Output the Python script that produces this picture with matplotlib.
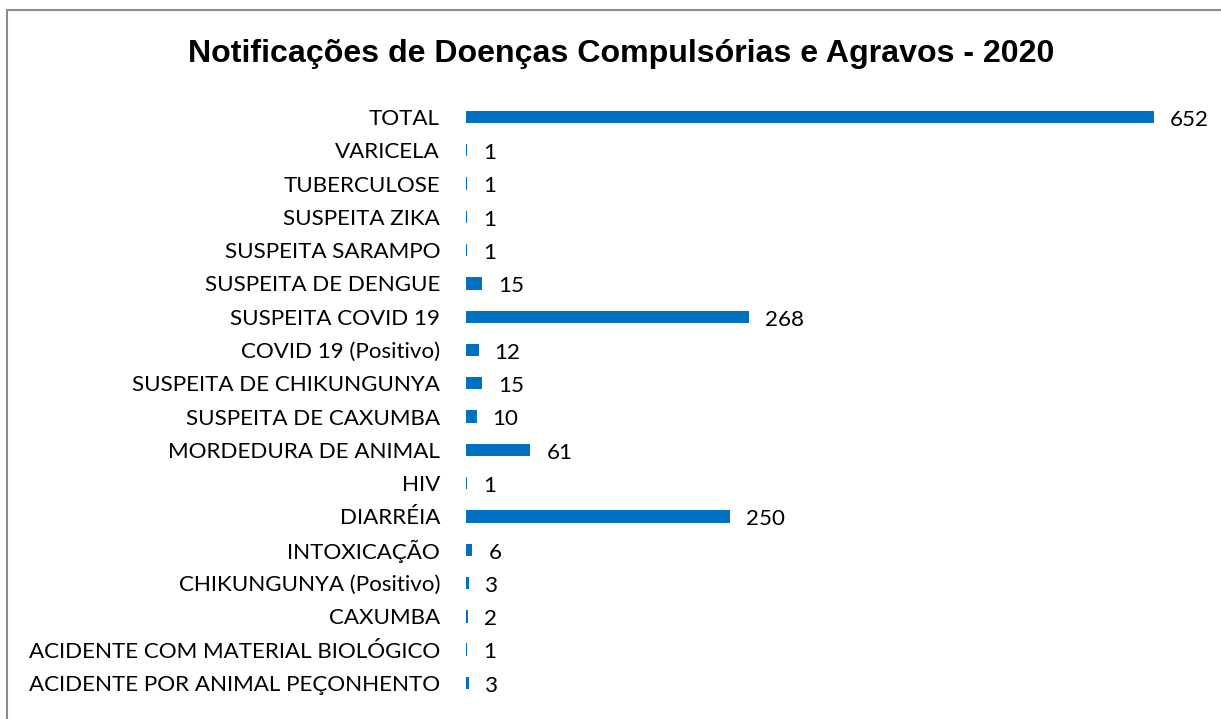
import matplotlib.pyplot as plt
from matplotlib.patches import Rectangle

categories = [
    "TOTAL",
    "VARICELA",
    "TUBERCULOSE",
    "SUSPEITA ZIKA",
    "SUSPEITA SARAMPO",
    "SUSPEITA DE DENGUE",
    "SUSPEITA COVID 19",
    "COVID 19 (Positivo)",
    "SUSPEITA DE CHIKUNGUNYA",
    "SUSPEITA DE CAXUMBA",
    "MORDEDURA DE ANIMAL",
    "HIV",
    "DIARRÉIA",
    "INTOXICAÇÃO",
    "CHIKUNGUNYA (Positivo)",
    "CAXUMBA",
    "ACIDENTE COM MATERIAL BIOLÓGICO",
    "ACIDENTE POR ANIMAL PEÇONHENTO",
]
values = [652, 1, 1, 1, 1, 15, 268, 12, 15, 10, 61, 1, 250, 6, 3, 2, 1, 3]

label_font = "Lato"
fig = plt.figure(figsize=(12.21, 7.19), dpi=100)
ax = fig.add_axes([0.3817, 0.027, 0.6011, 0.8334])

pos = list(range(len(categories)))
ax.barh(pos, values, height=0.37, color="#0070C0")
ax.set_ylim(len(categories) - 0.5, -0.5)
ax.set_xlim(0, 695.6)

ax.set_yticks(pos)
ax.set_yticklabels(categories, fontsize=16.1, fontfamily=label_font)
ax.tick_params(axis="y", length=0, pad=18.7)
ax.set_xticks([])
for s in ax.spines.values():
    s.set_visible(False)

for y, v in zip(pos, values):
    ax.annotate(str(v), (v, y), xytext=(11.5, -2), textcoords="offset points",
                va="center", ha="left", fontsize=16.1, fontfamily=label_font)

fig.text(0.5087, 0.925, "Notificações de Doenças Compulsórias e Agravos - 2020",
         ha="center", va="center", fontsize=23.1, fontweight="bold",
         fontfamily="Liberation Sans")

# chart area border
fig.patches.append(Rectangle((7 / 1221, -0.01), 1.02, 1 - 10 / 719 + 0.01,
                             transform=fig.transFigure, fill=False,
                             edgecolor="#8c8c8c", linewidth=1.5))

fig.savefig("out.png", dpi=100)
